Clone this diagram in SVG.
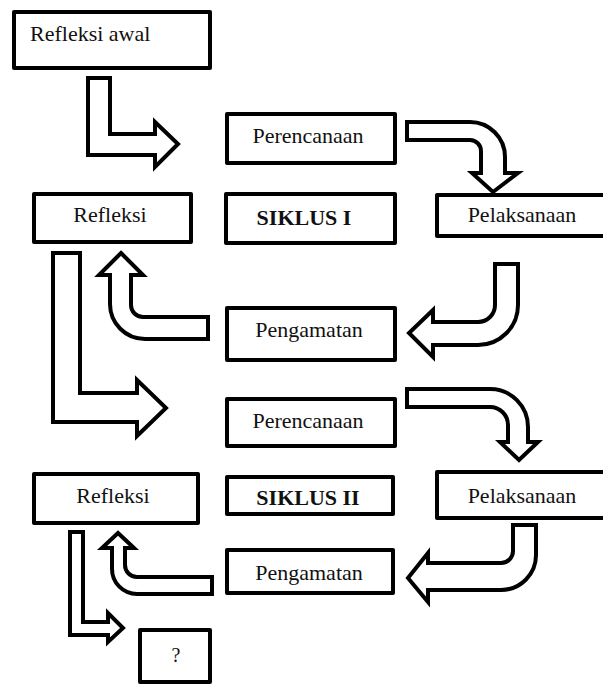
<svg xmlns="http://www.w3.org/2000/svg" width="603" height="686" viewBox="0 0 603 686">
<style>
.box{fill:#fff;stroke:#000;stroke-width:4;stroke-linejoin:round}
.arr{fill:#fff;stroke:#000;stroke-width:4;stroke-linejoin:miter}
.t{font-family:"Liberation Serif","Times New Roman",serif;font-size:22px;fill:#111;text-anchor:middle}
.b{font-weight:bold}
</style>
<rect width="603" height="686" fill="#fff"/>
<g id="connectors">
<path class="arr" d="M88,78 H110 V134 H155 V122 L178,144 L155,167 V155 H88 Z"/>
<path class="arr" d="M407,122 H470 A35,35 0 0 1 505,157 V173 H518 L493,192 L472,173 H481 V151 A11,11 0 0 0 470,140 H407 Z"/>
<path class="arr" d="M495,264 H518 V305 A40,40 0 0 1 478,345 H433 V357 L409,333 L433,310 V322 H478 A17,17 0 0 0 495,305 Z"/>
<path class="arr" d="M121,253 L143,275 H131 V305 A12,12 0 0 0 143,317 H208 V339 H145 A35,35 0 0 1 110,304 V275 H99 Z"/>
<path class="arr" d="M53,253 H80 V393 H137 V380 L166,408 L137,436 V422 H53 Z"/>
<path class="arr" d="M407,389 H490 A38,38 0 0 1 528,427 V442 H538 L519,460 L500,442 H508 V425 A18,18 0 0 0 490,407 H407 Z"/>
<path class="arr" d="M513,525 H536 V555 A35,35 0 0 1 501,590 H428 V602 L408,578 L428,553 V563 H501 A12,12 0 0 0 513,551 Z"/>
<path class="arr" d="M118,533 L134,548 H125 V565 A12,12 0 0 0 137,577 H212 V594 H137 A25,25 0 0 1 112,569 V548 H102 Z"/>
<path class="arr" d="M70,532 H83 V622 H108 V613 L123,628 L108,642 V635 H70 Z"/>
</g>
<g id="refleksi-awal"><rect class="box" x="14" y="12" width="196" height="56"/><text class="t" x="30" y="41" style="text-anchor:start">Refleksi awal</text></g>
<g id="perencanaan1"><rect class="box" x="227" y="114" width="168" height="49"/><text class="t" x="308" y="143">Perencanaan</text></g>
<g id="siklus1"><rect class="box" x="226" y="194" width="169" height="49"/><text class="t b" x="304" y="225">SIKLUS I</text></g>
<g id="pelaksanaan1"><rect class="box" x="437" y="195" width="175" height="41"/><text class="t" x="522" y="222">Pelaksanaan</text></g>
<g id="refleksi1"><rect class="box" x="34" y="194" width="157" height="48"/><text class="t" x="110" y="222">Refleksi</text></g>
<g id="pengamatan1"><rect class="box" x="227" y="308" width="168" height="52"/><text class="t" x="309" y="337">Pengamatan</text></g>
<g id="perencanaan2"><rect class="box" x="227" y="399" width="168" height="47"/><text class="t" x="308" y="428">Perencanaan</text></g>
<g id="siklus2"><rect class="box" x="227" y="477" width="166" height="37"/><text class="t b" x="308" y="505">SIKLUS II</text></g>
<g id="pelaksanaan2"><rect class="box" x="437" y="472" width="175" height="46"/><text class="t" x="522" y="503">Pelaksanaan</text></g>
<g id="refleksi2"><rect class="box" x="34" y="474" width="164" height="49"/><text class="t" x="113" y="503">Refleksi</text></g>
<g id="pengamatan2"><rect class="box" x="227" y="550" width="166" height="43"/><text class="t" x="309" y="580">Pengamatan</text></g>
<g id="question"><rect class="box" x="140" y="630" width="70" height="52"/><text class="t" x="176" y="662" style="font-size:20px">?</text></g>
</svg>
